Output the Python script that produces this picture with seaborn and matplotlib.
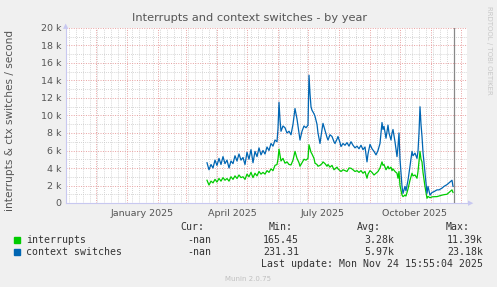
import numpy as np
import pandas as pd
import matplotlib
matplotlib.use("Agg")
import matplotlib.pyplot as plt
import matplotlib.dates as mdates
import seaborn as sns

# ---- data (days since 2025-01-01, values in thousands per second) ----
days = [80, 82, 84, 86, 88, 90, 92, 94, 96, 98, 100, 102, 104, 106, 108, 110, 112, 114, 116, 118,
        120, 122, 124, 126, 128, 130, 132, 134, 136, 138, 140, 142, 144, 146, 148, 150, 151, 152, 153, 154,
        156, 158, 160, 162, 164, 166, 168, 170, 172, 173, 175, 177, 179, 181, 182, 183, 184, 185, 187, 188,
        190, 191, 193, 195, 196, 198, 200, 201, 203, 205, 207, 208, 210, 211, 213, 214, 216, 218, 220, 222,
        224, 226, 228, 230, 232, 234, 236, 238, 240, 241, 243, 245, 247, 249, 251, 253, 255, 256, 257, 259,
        261, 262, 264, 265, 266, 268, 270, 271, 272, 273, 275, 276, 278, 279, 281, 283, 285, 286, 288, 290,
        291, 292, 293, 294, 295, 296, 298, 300, 301, 303, 305, 307, 310, 312, 315, 317, 320, 322, 325, 326]
ctx_switches = [4.6, 3.8, 4.4, 4.0, 4.9, 4.3, 5.1, 4.4, 5.3, 4.5, 4.9, 4.0, 4.8, 4.5, 5.4, 4.8, 5.6, 4.9, 5.2, 4.4,
                5.8, 5.0, 6.1, 4.6, 5.9, 5.3, 6.3, 5.5, 6.0, 5.6, 6.4, 6.0, 6.8, 6.5, 7.2, 7.0, 8.5, 11.5, 9.5, 8.2,
                8.8, 8.6, 8.0, 8.2, 7.8, 9.0, 10.8, 9.6, 8.0, 7.2, 8.2, 8.8, 8.6, 8.9, 14.6, 12.5, 11.0, 10.6, 10.2, 9.9,
                9.0, 8.0, 6.8, 8.4, 9.1, 8.3, 7.5, 7.2, 7.8, 7.6, 7.0, 6.8, 7.3, 7.6, 6.9, 6.45, 6.8, 6.6, 6.9, 6.5,
                7.0, 6.6, 6.3, 6.5, 6.2, 6.6, 6.1, 6.4, 4.7, 5.6, 6.7, 6.2, 5.9, 5.5, 6.0, 6.8, 9.2, 8.4, 8.75, 7.4,
                8.9, 8.0, 7.2, 8.0, 8.4, 7.0, 5.3, 6.5, 8.0, 5.0, 1.9, 1.1, 1.9, 1.4, 2.6, 4.2, 5.9, 5.4, 5.7, 5.1,
                5.9, 8.0, 11.0, 9.0, 7.6, 5.8, 3.4, 1.1, 1.9, 0.9, 1.2, 1.3, 1.5, 1.5, 1.7, 1.9, 2.1, 2.3, 2.6, 1.9]
interrupts = [2.6, 2.05, 2.5, 2.3, 2.7, 2.4, 2.8, 2.5, 2.9, 2.6, 2.8, 2.5, 3.0, 2.7, 3.1, 2.8, 3.2, 2.9, 3.0, 2.7,
              3.3, 3.0, 3.5, 2.9, 3.4, 3.1, 3.6, 3.3, 3.5, 3.3, 3.7, 3.5, 3.9, 3.7, 4.3, 4.4, 5.0, 6.15, 5.5, 4.8,
              5.1, 4.55, 4.7, 4.4, 4.35, 4.9, 5.9, 5.1, 4.6, 4.2, 4.6, 5.0, 4.9, 5.1, 6.65, 6.2, 5.8, 5.6, 5.1, 4.55,
              4.4, 4.2, 4.3, 4.5, 4.7, 4.5, 4.2, 4.4, 4.1, 4.3, 3.8, 3.9, 4.1, 3.9, 3.7, 3.6, 3.8, 3.7, 3.6, 4.0,
              3.97, 3.8, 3.6, 3.7, 3.5, 3.7, 3.4, 3.6, 2.83, 3.3, 3.7, 3.5, 3.2, 3.4, 3.6, 4.0, 4.7, 4.3, 4.4, 3.8,
              4.2, 3.9, 4.1, 3.7, 3.9, 3.6, 3.4, 2.83, 3.6, 2.0, 0.92, 0.73, 0.9, 0.8, 1.6, 2.6, 3.4, 3.1, 3.2, 2.83,
              3.6, 4.8, 5.9, 5.0, 4.7, 3.5, 1.87, 0.54, 0.75, 0.6, 0.7, 0.72, 0.73, 0.8, 0.9, 0.95, 1.0, 1.2, 1.5, 1.2]
series_names = ["interrupts", "context switches"]
series_colors = ["#00CC00", "#0066B3"]
legend_cur = ["-nan", "-nan"]
legend_min = ["165.45", "231.31"]
legend_avg = ["3.28k", "5.97k"]
legend_max = ["11.39k", "23.18k"]
month_labels = ["January 2025", "April 2025", "July 2025", "October 2025"]
month_label_dates = ["2025-01-16", "2025-04-16", "2025-07-16", "2025-10-16"]

base = pd.Timestamp("2025-01-01")
dates = base + pd.to_timedelta(days, unit="D")
df = pd.concat([
    pd.DataFrame({"date": dates, "value": np.array(interrupts) * 1000, "series": series_names[0]}),
    pd.DataFrame({"date": dates, "value": np.array(ctx_switches) * 1000, "series": series_names[1]}),
])

W, H = 497, 287
fig = plt.figure(figsize=(W / 100, H / 100), dpi=100, facecolor="#F0F0F0")
ax = fig.add_axes([66 / W, 1 - 203 / H, (467 - 66) / W, (203 - 28) / H])
ax.set_facecolor("white")

sns.lineplot(data=df, x="date", y="value", hue="series", palette=series_colors,
             hue_order=series_names, linewidth=0.9, ax=ax, legend=False, zorder=3)

xmin = base + pd.Timedelta(days=-61)
xmax = base + pd.Timedelta(days=340)
ax.set_xlim(xmin, xmax)
ax.set_ylim(0, 20000)

# grid
ax.set_yticks(np.arange(0, 20001, 2000))
ax.set_yticks(np.arange(1000, 20000, 2000), minor=True)
ax.set_yticklabels(["0"] + [f"{v // 1000} k" for v in range(2000, 20001, 2000)])
ax.xaxis.set_major_locator(mdates.MonthLocator())
ax.xaxis.set_minor_locator(mdates.WeekdayLocator(byweekday=mdates.MO))
ax.xaxis.set_major_formatter(plt.NullFormatter())
ax.grid(which="major", axis="both", color="#E8A0A0", linestyle=(0, (1, 1.5)), linewidth=0.7, zorder=1)
ax.grid(which="minor", axis="both", color="#C8C8C8", linestyle=(0, (1, 1.5)), linewidth=0.6, zorder=0)
ax.tick_params(axis="both", which="both", length=0, colors="#555555", labelsize=6.8, pad=3)
ax.tick_params(axis="x", pad=2)

for d, lab in zip(month_label_dates, month_labels):
    ax.text(pd.Timestamp(d), -650, lab, ha="center", va="top", fontsize=6.8, color="#555555")

for s in ["top", "right"]:
    ax.spines[s].set_visible(False)
ax.spines["left"].set_color("#C8C8F0")
ax.spines["bottom"].set_color("#C8C8F0")
ax.spines["left"].set_linewidth(0.8)
ax.spines["bottom"].set_linewidth(0.8)

# now marker
ax.axvline(base + pd.Timedelta(days=327), color="#888888", linewidth=0.9, zorder=4)

ax.set_xlabel("")
ax.set_ylabel("interrupts & ctx switches / second", fontsize=7.6, color="#555555")
ax.yaxis.set_label_coords(-0.128, 0.47)

fig.text(250 / W, 1 - 18 / H, "Interrupts and context switches - by year",
         ha="center", va="center", fontsize=8.2, color="#555555")
fig.text(489 / W, 1 - 50 / H, "RRDTOOL / TOBI OETIKER", rotation=270,
         ha="center", va="center", fontsize=5, color="#C8C8C8")

# arrows on axes
fig.text(66 / W, 1 - 26 / H, "▲", ha="center", va="center", fontsize=5, color="#C8C8F0")
fig.text(471 / W, 1 - 203 / H, "▶", ha="center", va="center", fontsize=5, color="#C8C8F0")

# legend table
mono = "DejaVu Sans Mono"
fs = 7.1
tc = "#333333"
y_head, y1, y2, y3 = 227, 240, 252, 264
for x, t in [(204, "Cur:"), (293, "Min:"), (381, "Avg:"), (470, "Max:")]:
    fig.text(x / W, 1 - y_head / H, t, ha="right", va="center", family=mono, fontsize=fs, color=tc)
for i, yy in enumerate([y1, y2]):
    fig.patches.append(matplotlib.patches.Rectangle((14 / W, 1 - (yy + 3) / H), 6 / W, 6 / H,
                                                    transform=fig.transFigure, color=series_colors[i]))
    fig.text(26 / W, 1 - yy / H, series_names[i], ha="left", va="center", family=mono, fontsize=fs, color=tc)
    fig.text(211 / W, 1 - yy / H, legend_cur[i], ha="right", va="center", family=mono, fontsize=fs, color=tc)
    fig.text(299 / W, 1 - yy / H, legend_min[i], ha="right", va="center", family=mono, fontsize=fs, color=tc)
    fig.text(394 / W, 1 - yy / H, legend_avg[i], ha="right", va="center", family=mono, fontsize=fs, color=tc)
    fig.text(483 / W, 1 - yy / H, legend_max[i], ha="right", va="center", family=mono, fontsize=fs, color=tc)
fig.text(483 / W, 1 - y3 / H, "Last update: Mon Nov 24 15:55:04 2025", ha="right", va="center",
         family=mono, fontsize=fs, color=tc)
fig.text(248 / W, 1 - 279 / H, "Munin 2.0.75", ha="center", va="center", fontsize=5, color="#C0C0C0")

fig.savefig("out.png", dpi=100, facecolor=fig.get_facecolor())
